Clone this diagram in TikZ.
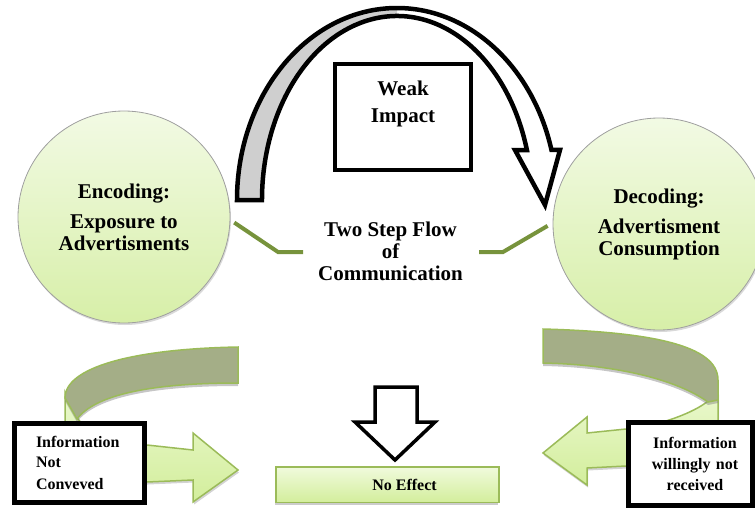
\documentclass[tikz,border=0pt]{standalone}
\usepackage{fontspec}
\setmainfont{Liberation Serif}
\usetikzlibrary{shadows}
\definecolor{connolive}{HTML}{77933C}
\definecolor{bubtop}{HTML}{F2FAE4}
\definecolor{bubbot}{HTML}{D7EFA8}
\definecolor{arrowborder}{HTML}{9BBB59}
\definecolor{darkband}{HTML}{A4AE87}
\definecolor{arrtop}{HTML}{EAF8CE}
\definecolor{arrbot}{HTML}{D3EE9C}
\definecolor{bandgray}{HTML}{CFCFCF}
\begin{document}
\begin{tikzpicture}[x=1pt,y=-1pt,
  bubble/.style={circle, minimum size=212pt, inner sep=0pt, draw=gray!75, line width=0.8pt,
    top color=bubtop, bottom color=bubbot, align=center,
    font=\bfseries\fontsize{21}{22}\selectfont,
    drop shadow={shadow xshift=1pt, shadow yshift=-2pt, opacity=0.3}},
  conn/.style={draw=connolive, line width=4pt},
  lgarrow/.style={draw=arrowborder, line width=1.5pt, top color=arrtop, bottom color=arrbot,
    drop shadow={shadow xshift=1pt, shadow yshift=-2.5pt, opacity=0.35}},
  darkribbon/.style={draw=arrowborder, line width=1.5pt, fill=darkband,
    drop shadow={shadow xshift=0pt, shadow yshift=-3pt, opacity=0.45}},
  blackbox/.style={draw=black, line width=5pt, fill=white, inner sep=0pt,
    font=\bfseries\fontsize{16}{21}\selectfont},
  effectbox/.style={draw=arrowborder, line width=1.5pt, top color=arrtop!70!white, bottom color=arrbot,
    inner sep=0pt, font=\bfseries\fontsize{16}{20}\selectfont,
    drop shadow={shadow xshift=-1pt, shadow yshift=-2.5pt, opacity=0.4}},
  bigtext/.style={align=center, inner sep=0pt, font=\bfseries\fontsize{21}{22}\selectfont}
]
\useasboundingbox (0,0) rectangle (755,509);

% circles
\node[bubble] (enc) at (124,217) {Encoding:\\[8pt]Exposure to\\Advertisments};
\node[bubble] (dec) at (659,224) {Decoding:\\[8pt]Advertisment\\Consumption};

% central text
\node[bigtext] (flow) at (390.5,251) {Two Step Flow\\of\\Communication};

% connectors
\coordinate (lb) at (278,252);
\coordinate (le) at (303,252);
\coordinate (rb) at (503,252);
\coordinate (rs) at (479,252);
\draw[conn] ([shift={(4,0)}]enc.-3) -- (lb) -- (le);
\draw[conn] (rs) -- (rb) -- ([shift={(-5,0)}]dec.181);

% top curved arrow
\fill[white] (237,200) arc[start angle=180, end angle=344.9, x radius=160, y radius=192]
  -- ++(8.5,0) -- (545,205) -- (515,150) -- (526.9,150)
  arc[start angle=344.23, end angle=180, x radius=135, y radius=184] -- cycle;
\fill[bandgray] (237,200) arc[start angle=180, end angle=270, x radius=160, y radius=192]
  -- (397,16) arc[start angle=270, end angle=180, x radius=135, y radius=184] -- cycle;
\draw[line width=4.5pt, line join=miter] (237,200) arc[start angle=180, end angle=344.9, x radius=160, y radius=192]
  -- ++(8.5,0) -- (545,205) -- (515,150) -- (526.9,150)
  arc[start angle=344.23, end angle=180, x radius=135, y radius=184] -- cycle;

% weak impact box
\node[draw, line width=4pt, minimum width=136pt, minimum height=106pt, inner sep=0pt, align=center,
  font=\bfseries\fontsize{21}{22}\selectfont] (weak) at (403,117) {Weak\\[5pt]Impact\\[8.6pt]\mbox{}};

% bottom left ribbon arrow
\path[lgarrow] (65,392) -- (65,440) .. controls (65,470) and (100,482) .. (147,482)
  -- (193,480) -- (193,502) -- (238,470) -- (193,433) -- (193,450) -- (147,445)
  .. controls (110,442) and (88,432) .. (78,419) -- cycle;
\path[darkribbon] (238,347) .. controls (130,349) and (65,368) .. (65,398) -- (77,419)
  .. controls (95,395) and (150,383) .. (238,383) -- cycle;

% bottom right ribbon arrow
\path[lgarrow] (718,392) -- (718,440) .. controls (718,460) and (680,465) .. (626,466)
  -- (587,468) -- (587,485) -- (543,453) -- (587,417) -- (587,433) -- (626,429)
  .. controls (660,426) and (695,412) .. (708,401) -- cycle;
\path[darkribbon] (543,329) .. controls (650,332) and (718,345) .. (718,380) -- (718,400) -- (708,402)
  .. controls (670,375) and (600,364) .. (543,363) -- cycle;

% side boxes
\node[blackbox, minimum width=130pt, minimum height=79pt, align=left, text width=87pt] (notconv) at (79.5,463)
  {Information\\[-1pt]Not\\[1pt]Conveved};
\node[blackbox, minimum width=124pt, minimum height=83pt, align=center, text width=120pt] (notrec) at (690.5,464)
  {\hspace*{9pt}Information\\\hspace*{9pt}willingly not\\\hspace*{9pt}received};

% no effect
\node[effectbox, minimum width=223pt, minimum height=35.5pt] (noeff) at (387.5,484.5) {\hspace*{34pt}No Effect};
\draw[line width=3.5pt, fill=white, line join=miter] (375,387) -- (417,387) -- (417,422) -- (435,422)
  -- (395,460) -- (355,422) -- (375,422) -- cycle;
\end{tikzpicture}
\end{document}
